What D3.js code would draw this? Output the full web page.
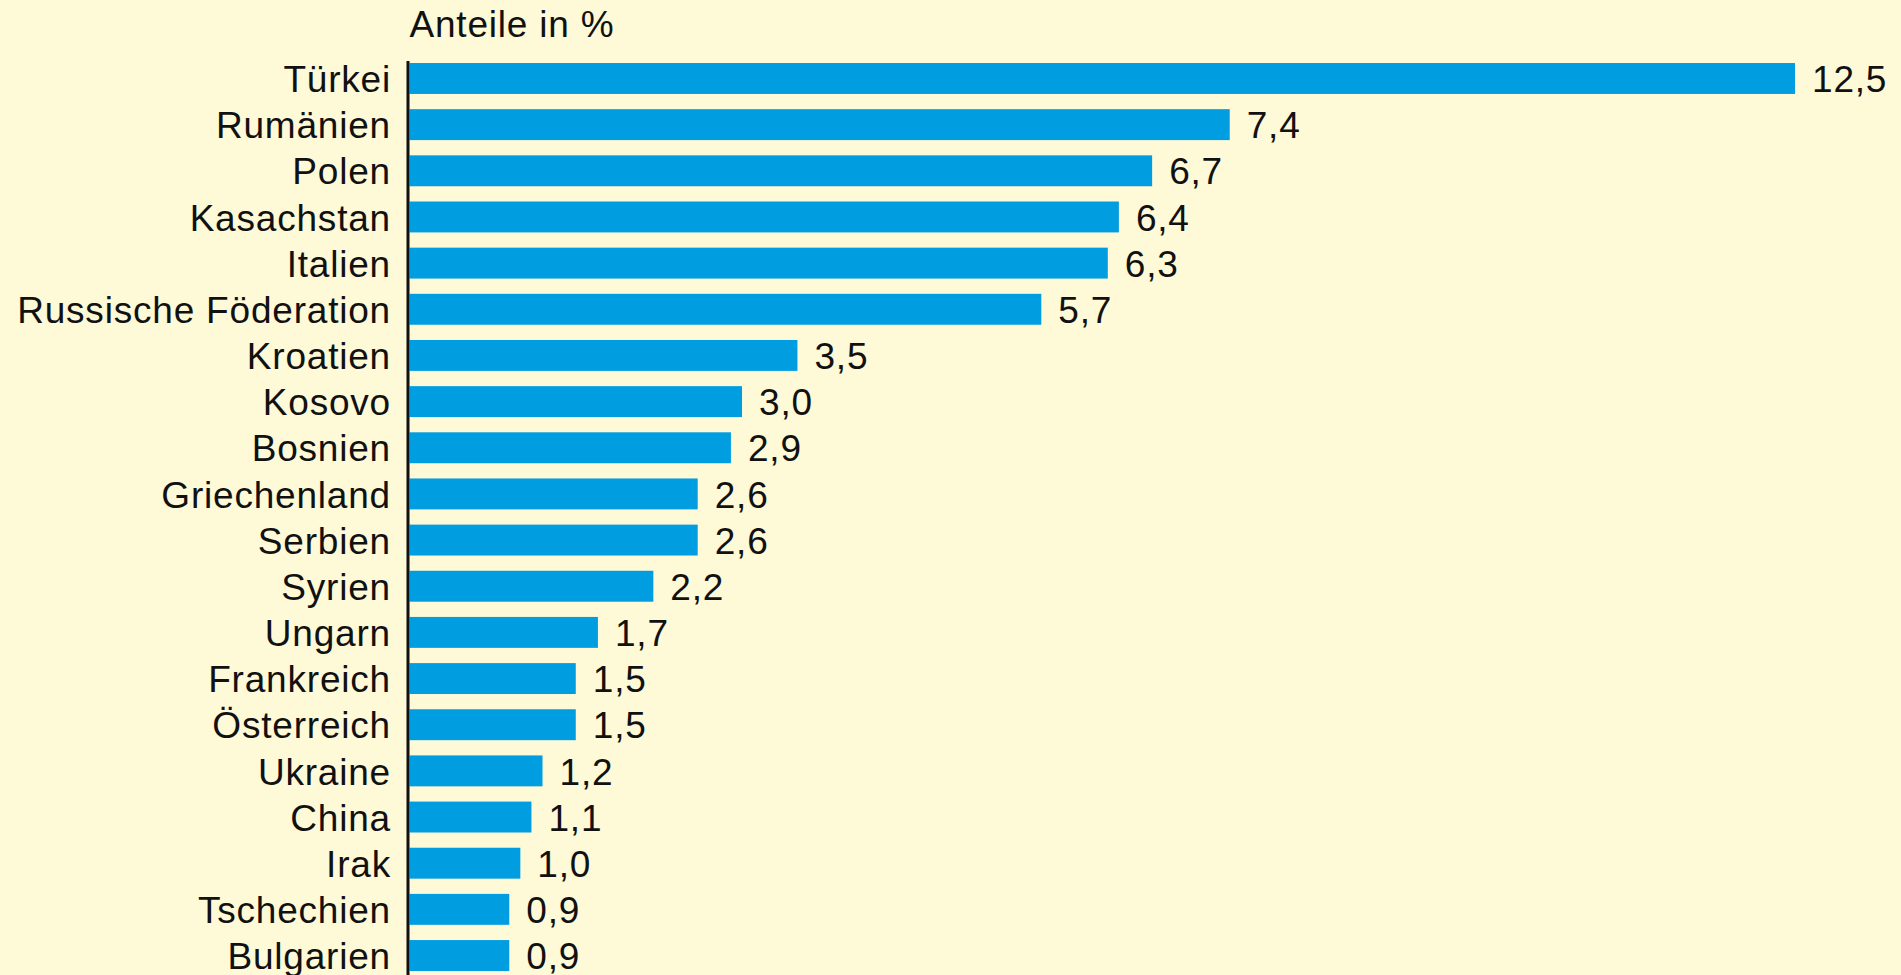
<!DOCTYPE html>
<html>
<head>
<meta charset="utf-8">
<script src="https://cdn.jsdelivr.net/npm/d3@7"></script>
<style>
  html, body { margin: 0; padding: 0; background: #fef9d7; }
  svg { display: block; }
  text { font-family: "Liberation Sans", Arial, sans-serif; font-size: 37px; letter-spacing: 0.8px; fill: #111; }
</style>
</head>
<body>
<div id="chart"></div>
<script>
// Data
const countries = ['Türkei', 'Rumänien', 'Polen', 'Kasachstan', 'Italien', 'Russische Föderation',
  'Kroatien', 'Kosovo', 'Bosnien', 'Griechenland', 'Serbien', 'Syrien', 'Ungarn', 'Frankreich',
  'Österreich', 'Ukraine', 'China', 'Irak', 'Tschechien', 'Bulgarien']
const shares = [12.5, 7.4, 6.7, 6.4, 6.3, 5.7, 3.5, 3.0, 2.9, 2.6, 2.6, 2.2, 1.7, 1.5, 1.5, 1.2, 1.1, 1.0, 0.9, 0.9]
const unitLabel = 'Anteile in %'

const width = 1901
const height = 975
const left = 409.5

const svg = d3.select('#chart')
  .append('svg')
  .attr('width', width)
  .attr('height', height)

const x = d3.scaleLinear().domain([0, 12.5]).range([left, 1795])
const y = d3.scaleBand()
  .domain(countries)
  .range([55.4, 978.6])
  .paddingInner(0.33)
  .paddingOuter(0.165)

const de = d3.formatLocale({ decimal: ',', thousands: '.', grouping: [3], currency: ['', ' €'] })
const fmt = de.format('.1f')

const rows = countries.map((c, i) => ({ name: c, value: shares[i] }))

// Title
svg.append('text')
  .attr('x', left)
  .attr('y', 37)
  .text(unitLabel)

// Bars
svg.selectAll('rect.bar')
  .data(rows)
  .enter().append('rect')
  .attr('class', 'bar')
  .attr('x', x(0))
  .attr('y', d => y(d.name))
  .attr('width', d => x(d.value) - x(0))
  .attr('height', y.bandwidth())
  .attr('fill', '#009ee0')

// Category labels
svg.selectAll('text.cat')
  .data(rows)
  .enter().append('text')
  .attr('class', 'cat')
  .attr('x', 391)
  .attr('y', d => y(d.name) + y.bandwidth() / 2)
  .attr('dy', '0.37em')
  .attr('text-anchor', 'end')
  .text(d => d.name)

// Value labels
svg.selectAll('text.val')
  .data(rows)
  .enter().append('text')
  .attr('class', 'val')
  .attr('x', d => x(d.value) + 17)
  .attr('y', d => y(d.name) + y.bandwidth() / 2)
  .attr('dy', '0.37em')
  .text(d => fmt(d.value))

// Axis line
svg.append('line')
  .attr('x1', 408).attr('x2', 408)
  .attr('y1', 61).attr('y2', height)
  .attr('stroke', '#111')
  .attr('stroke-width', 3)
</script>
</body>
</html>
